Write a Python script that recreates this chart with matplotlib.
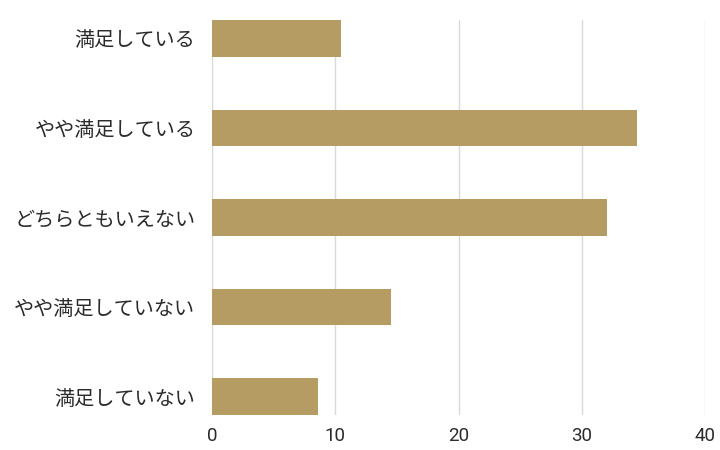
import matplotlib
matplotlib.use("Agg")
import matplotlib.pyplot as plt

plt.rcParams["font.family"] = ["Noto Sans CJK JP", "DejaVu Sans"]

categories = ["満足している", "やや満足している", "どちらともいえない", "やや満足していない", "満足していない"]
values = [10.5, 34.5, 32.0, 14.5, 8.6]
x_ticks = [0, 10, 20, 30, 40]

bar_color = "#b59c63"
grid_color = "#d9d9d9"
text_color = "#2b2b2b"

fig = plt.figure(figsize=(7.2, 4.5), dpi=100)
ax = fig.add_axes([0.2944, 0.0778, 0.6850, 0.8778])

ypos = list(range(len(categories)))
ax.barh(ypos, values, height=0.41, color=bar_color, zorder=3)

ax.set_xlim(0, 40)
ax.set_ylim(len(categories) - 1 + 0.205, -0.205)
ax.set_xticks(x_ticks)
ax.set_xticklabels([str(t) for t in x_ticks])
ax.set_yticks(ypos)
ax.set_yticklabels(categories)

ax.grid(axis="x", color=grid_color, lw=1, zorder=0)
for s in ax.spines.values():
    s.set_visible(False)
ax.tick_params(axis="y", length=0, pad=12, labelsize=14.5, labelcolor=text_color)
ax.tick_params(axis="x", length=0, pad=9, labelsize=13.5, labelcolor=text_color)
for lab in ax.get_xticklabels():
    lab.set_family(["Roboto", "DejaVu Sans"])

fig.savefig("out.png", dpi=100)
